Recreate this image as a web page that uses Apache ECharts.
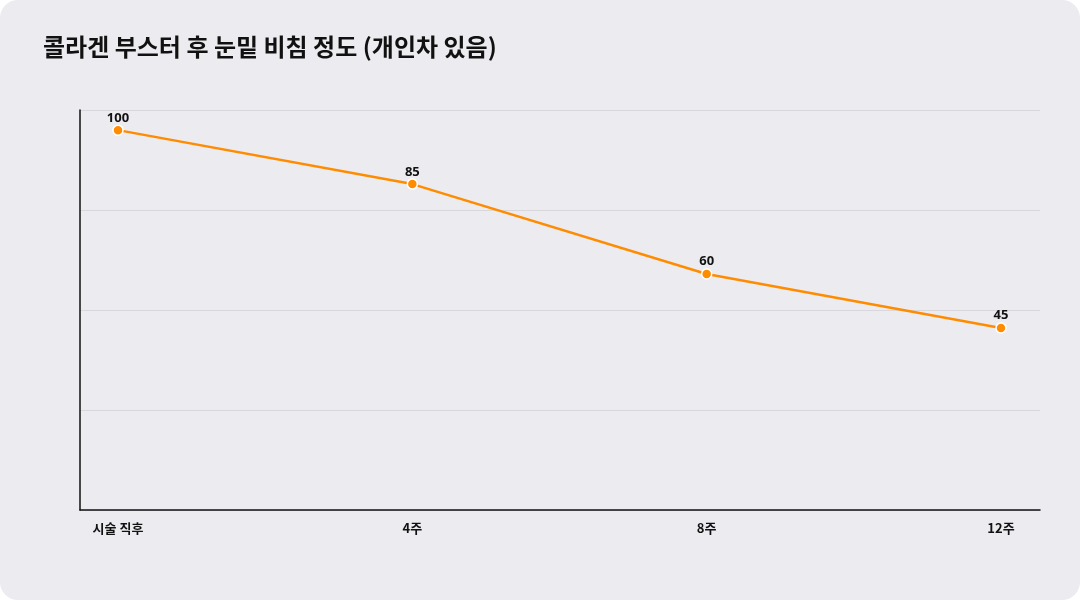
<!DOCTYPE html><html><head><meta charset="utf-8">
<script src="https://cdn.jsdelivr.net/npm/echarts@6/dist/echarts.min.js"></script>
<style>html,body{margin:0;background:#fff}#c{width:1080px;height:600px;background:#ecebf0;border-radius:18px;overflow:hidden}</style>
</head><body><div id="c"></div><script>
const categories=['시술 직후','4주','8주','12주'];
const values=[100,85,60,45];
const title='콜라겐 부스터 후 눈밑 비침 정도 (개인차 있음)';
const chart=echarts.init(document.getElementById('c'));
const yr={min:-5.6,max:105.6,interval:27.8};
chart.setOption({
 title:{text:title,left:38,top:30,textStyle:{fontFamily:'Noto Sans CJK KR',fontSize:24,fontWeight:'bold',color:'#111'}},
 grid:[{left:80,right:40,top:110,bottom:90},{left:118,right:79,top:110,bottom:90}],
 xAxis:[{gridIndex:0,type:'value',min:0,max:1,axisLine:{show:true,onZero:false,lineStyle:{color:'#111',width:1.5}},axisTick:{show:false},axisLabel:{show:false},splitLine:{show:false}},
  {gridIndex:1,type:'category',data:categories,boundaryGap:false,axisLine:{show:false,onZero:false},axisTick:{show:false},axisLabel:{margin:12,color:'#111',fontWeight:'bold',fontSize:13,fontFamily:'Noto Sans CJK KR'}}],
 yAxis:[{gridIndex:0,type:'value',...yr,axisLine:{show:true,lineStyle:{color:'#111',width:1.5}},axisTick:{show:false},axisLabel:{show:false},splitLine:{lineStyle:{color:'#d8d7dc'}}},
  {gridIndex:1,type:'value',...yr,show:false,splitLine:{show:false}}],
 series:[{type:'line',xAxisIndex:1,yAxisIndex:1,data:values,symbol:'circle',symbolSize:10,
  lineStyle:{color:'#ff8c00',width:2.5},itemStyle:{color:'#ff8c00',borderColor:'#fff',borderWidth:1.5},
  label:{show:true,position:'top',distance:0,color:'#111',fontWeight:'bold',fontSize:13,fontFamily:'Noto Sans'},animation:false}]
});
</script></body></html>
